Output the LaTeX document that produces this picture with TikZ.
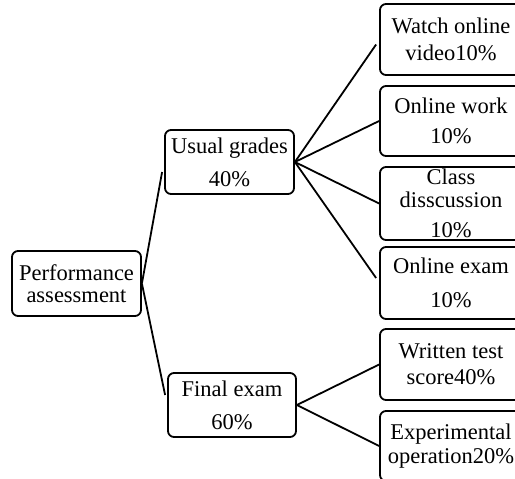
\documentclass[tikz,border=0pt]{standalone}
\usepackage{fontspec}
\setmainfont{Liberation Serif}
\usepackage{tikz}
\usetikzlibrary{arrows.meta,positioning,calc}
\definecolor{asmtInk}{HTML}{000000}

\tikzset{
  card/.style={draw=asmtInk,line width=1.8pt,rounded corners=6pt,inner sep=0pt,
               align=center,font=\fontsize{22.5}{24}\selectfont},
  link/.style={draw=asmtInk,line width=1.8pt}
}

\begin{document}
\begin{tikzpicture}[x=1pt,y=-1pt]
  \useasboundingbox (0,0) rectangle (515,479);
  \clip (0,0) rectangle (515,479);

  % root and the two middle boxes
  \node[card,minimum width=129pt,minimum height=65pt] (perf) at (76.5,283.5)
    {Performance\\[-2pt]assessment};
  \node[card,minimum width=129pt,minimum height=64pt] (usual) at (229.5,162)
    {Usual grades\\[9pt]40\%};
  \node[card,minimum width=128pt,minimum height=64pt] (final) at (232,405)
    {Final exam\\[9pt]60\%};

  % leaves, cut off at the right edge
  \node[card,minimum width=142pt,minimum height=71pt] (watch) at (451,39.5)
    {Watch online\\[3pt]video10\%};
  \node[card,minimum width=142pt,minimum height=70pt] (work) at (451,121)
    {Online work\\[6pt]10\%};
  \node[card,minimum width=142pt,minimum height=73pt] (class) at (451,203.5)
    {Class\\[-1pt]disscussion\\[6pt]10\%};
  \node[card,minimum width=142pt,minimum height=72pt] (oexam) at (451,283)
    {Online exam\\[10pt]10\%};
  \node[card,minimum width=142pt,minimum height=71pt] (written) at (451,364.5)
    {Written test\\[2pt]score40\%};
  \node[card,minimum width=142pt,minimum height=70pt] (exper) at (451,446)
    {Experimental\\operation20\%};

  % connectors
  \draw[link] (perf.east) -- ([xshift=-2pt,yshift=-10pt]usual.west);
  \draw[link] (perf.east) -- ([xshift=-2pt,yshift=10pt]final.west);
  \draw[link] (usual.east) -- ([xshift=-3pt,yshift=-5pt]watch.west);
  \draw[link] (usual.east) -- (work.west);
  \draw[link] (usual.east) -- (class.west);
  \draw[link] (usual.east) -- ([xshift=-3pt,yshift=5pt]oexam.west);
  \draw[link] (final.east) -- (written.west);
  \draw[link] (final.east) -- (exper.west);
\end{tikzpicture}
\end{document}
